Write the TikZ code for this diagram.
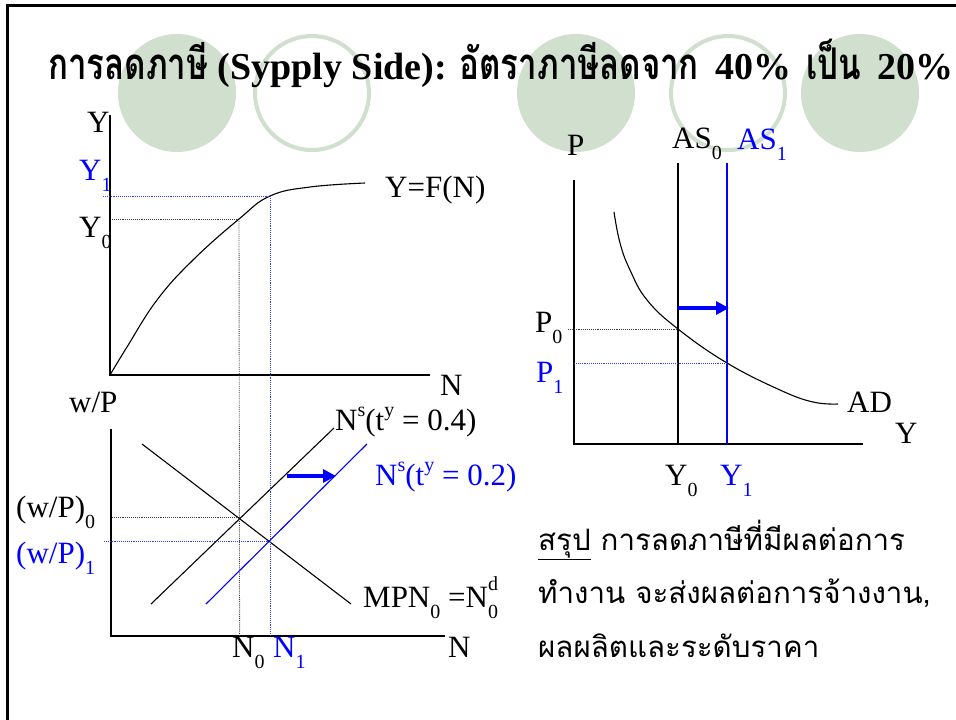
\documentclass[tikz,border=0pt]{standalone}
\usepackage{fontspec}
\setmainfont{Liberation Serif}
\newfontfamily\thai[Script=Thai]{Loma}
\usetikzlibrary{arrows.meta}
\definecolor{sage}{RGB}{208,223,206}
\definecolor{pblue}{RGB}{0,0,255}
\definecolor{dotblue}{RGB}{60,60,255}
\newcommand\sbs[1]{\raisebox{-11pt}{\fontsize{20}{20}\selectfont #1}}
\newcommand\sps[1]{\raisebox{14pt}{\fontsize{20}{20}\selectfont #1}}
\newcommand\thaititle[1]{\scalebox{0.87}[1.15]{\thai #1}}
\begin{document}
\begin{tikzpicture}[x=1pt,y=-1pt,
  lbl/.style={inner sep=0pt, anchor=base west, font=\fontsize{31}{31}\selectfont},
  thaitext/.style={inner sep=0pt, anchor=base west, font=\thai\fontsize{29.5}{29.5}\selectfont},
  axis/.style={line width=1.5pt},
  curve/.style={line width=1.1pt, line join=round},
  bcurve/.style={line width=1.1pt, pblue},
  guide/.style={line width=0.9pt, densely dotted, black!75},
  bguide/.style={line width=0.9pt, densely dotted, dotblue},
  shift arrow/.style={-{Triangle[length=13pt,width=13pt]}, line width=4pt, pblue},
  ring/.style={draw=sage, line width=4pt},
  disc/.style={fill=sage}]
\useasboundingbox (0,0) rectangle (956,720);
\fill[white] (0,0) rectangle (956,720);
% frame
\draw[line width=3pt] (7,730) -- (7,5) -- (970,5);
% decorative circles
\fill[disc] (177,93) circle (59);
\draw[ring] (312,93) circle (57);
\fill[disc] (576,93) circle (59);
\draw[ring] (728,93) circle (57);
\fill[disc] (860,93) circle (59);
% title
\node[inner sep=0pt, anchor=base west, font=\bfseries\fontsize{38}{38}\selectfont] (title) at (48,79)
  {\thaititle{การลดภาษี} (Sypply Side): \thaititle{อัตราภาษีลดจาก}\hspace{16pt}40\%\hspace{15pt}\thaititle{เป็น}\hspace{17pt}20\%};

% ===== top-left graph: production function =====
\coordinate (O1) at (110,375);
\coordinate (Y1top) at (110,115);
\coordinate (N1end) at (430,375);
\draw[axis] (Y1top) -- (O1) -- (N1end);
\coordinate (F0) at (239,219);
\coordinate (F1) at (270,196);
\coordinate (Yax0) at (112,219);
\coordinate (Yax1) at (103,196);
\draw[curve] plot[smooth, tension=0.7] coordinates {(110,375) (127,347) (157,300) (193,260) (239,219) (270,196) (310,187) (365,183)};

% ===== lower-left graph: labour market =====
\coordinate (O2) at (111,636);
\coordinate (W2top) at (111,429);
\coordinate (N2end) at (445,636);
\draw[axis] (W2top) -- (O2) -- (N2end);
\coordinate (Da) at (142,444);
\coordinate (Db) at (351,604);
\coordinate (S0a) at (151,604);
\coordinate (S0b) at (334,428);
\coordinate (S1a) at (206,604);
\coordinate (S1b) at (367,444);
\coordinate (E0) at (239.6,517);
\coordinate (E1) at (269.1,541.3);
\draw[curve] (Da) -- (Db);
\draw[curve] (S0a) -- (S0b);
\draw[bcurve] (S1a) -- (S1b);
\coordinate (W0ax) at (112,517);
\coordinate (W1ax) at (104,541.3);
\coordinate (N0ax) at (239.6,636);
\coordinate (N1ax) at (270,636);
% guides
\draw[guide] (Yax0) -- (F0);
\draw[guide] (F0) -- (N0ax);
\draw[guide] (W0ax) -- (E0);
\draw[bguide] (Yax1) -- (F1);
\draw[bguide] (F1) -- (N1ax);
\draw[bguide] (W1ax) -- (E1);
% shift arrow
\coordinate (LA1) at (287,476);
\coordinate (LA2) at (336,476);
\draw[shift arrow] (LA1) -- (LA2);

% ===== right graph: AS-AD =====
\coordinate (O3) at (574,444);
\coordinate (P3top) at (574,180);
\coordinate (Y3end) at (863,444);
\draw[axis] (P3top) -- (O3) -- (Y3end);
\coordinate (AS0t) at (678,163);
\coordinate (AS0b) at (678,444);
\coordinate (AS1t) at (727,163);
\coordinate (AS1b) at (727,444);
\draw[curve] (AS0t) -- (AS0b);
\draw[bcurve] (AS1t) -- (AS1b);
\coordinate (Q0) at (678,329);
\coordinate (Q1) at (727,363);
\coordinate (P0ax) at (568,329);
\coordinate (P1ax) at (574,363);
\draw[curve] plot[smooth, tension=0.7] coordinates {(614,212) (620,243) (630,270) (647,300) (678,329) (727,363) (780,390) (813,402) (838,404)};
\draw[guide] (P0ax) -- (Q0);
\draw[bguide] (P1ax) -- (Q1);
\coordinate (RA1) at (678,308);
\coordinate (RA2) at (729,308);
\draw[shift arrow] (RA1) -- (RA2);

% ===== labels =====
\node[lbl] (lY) at (87,132) {Y};
\node[lbl, pblue] (lY1) at (79,180) {Y\sbs{1}};
\node[lbl] (lY0) at (79,237) {Y\sbs{0}};
\node[lbl] (lN) at (440,395) {N};
\node[lbl] (lF) at (385,197) {Y=F(N)};

\node[lbl] (lwp) at (69,412) {w/P};
\node[lbl] (lwp0) at (16,517) {(w/P)\sbs{0}};
\node[lbl, pblue] (lwp1) at (16,563) {(w/P)\sbs{1}};
\node[lbl] (lS0) at (335,430) {N\sps{s}(t\sps{y} = 0.4)};
\node[lbl, pblue] (lS1) at (375,485) {N\sps{s}(t\sps{y} = 0.2)};
\node[lbl] (lD) at (363,607) {MPN\sbs{0} =N\rlap{\raisebox{17pt}{\fontsize{20}{20}\selectfont d}}\sbs{0}};
\node[lbl] (lN0) at (232,657) {N\sbs{0}};
\node[lbl, pblue] (lN1) at (273,657) {N\sbs{1}};
\node[lbl] (lN2) at (448,657) {N};

\node[lbl] (lP) at (567,155) {P};
\node[lbl] (lAS0) at (672,148) {AS\sbs{0}};
\node[lbl, pblue] (lAS1) at (737,149) {AS\sbs{1}};
\node[lbl] (lP0) at (535,332) {P\sbs{0}};
\node[lbl, pblue] (lP1) at (536,382) {P\sbs{1}};
\node[lbl] (lAD) at (847,412) {AD};
\node[lbl] (lYr) at (895,443) {Y};
\node[lbl] (lYr0) at (665,485) {Y\sbs{0}};
\node[lbl, pblue] (lYr1) at (720,485) {Y\sbs{1}};

% ===== summary text =====
\node[thaitext] (t1) at (538,550) {\underline{สรุป} การลดภาษีที่มีผลต่อการ};
\node[thaitext] (t2) at (538,603) {ทำงาน จะส่งผลต่อการจ้างงาน,};
\node[thaitext] (t3) at (538,657) {ผลผลิตและระดับราคา};
\end{tikzpicture}
\end{document}
